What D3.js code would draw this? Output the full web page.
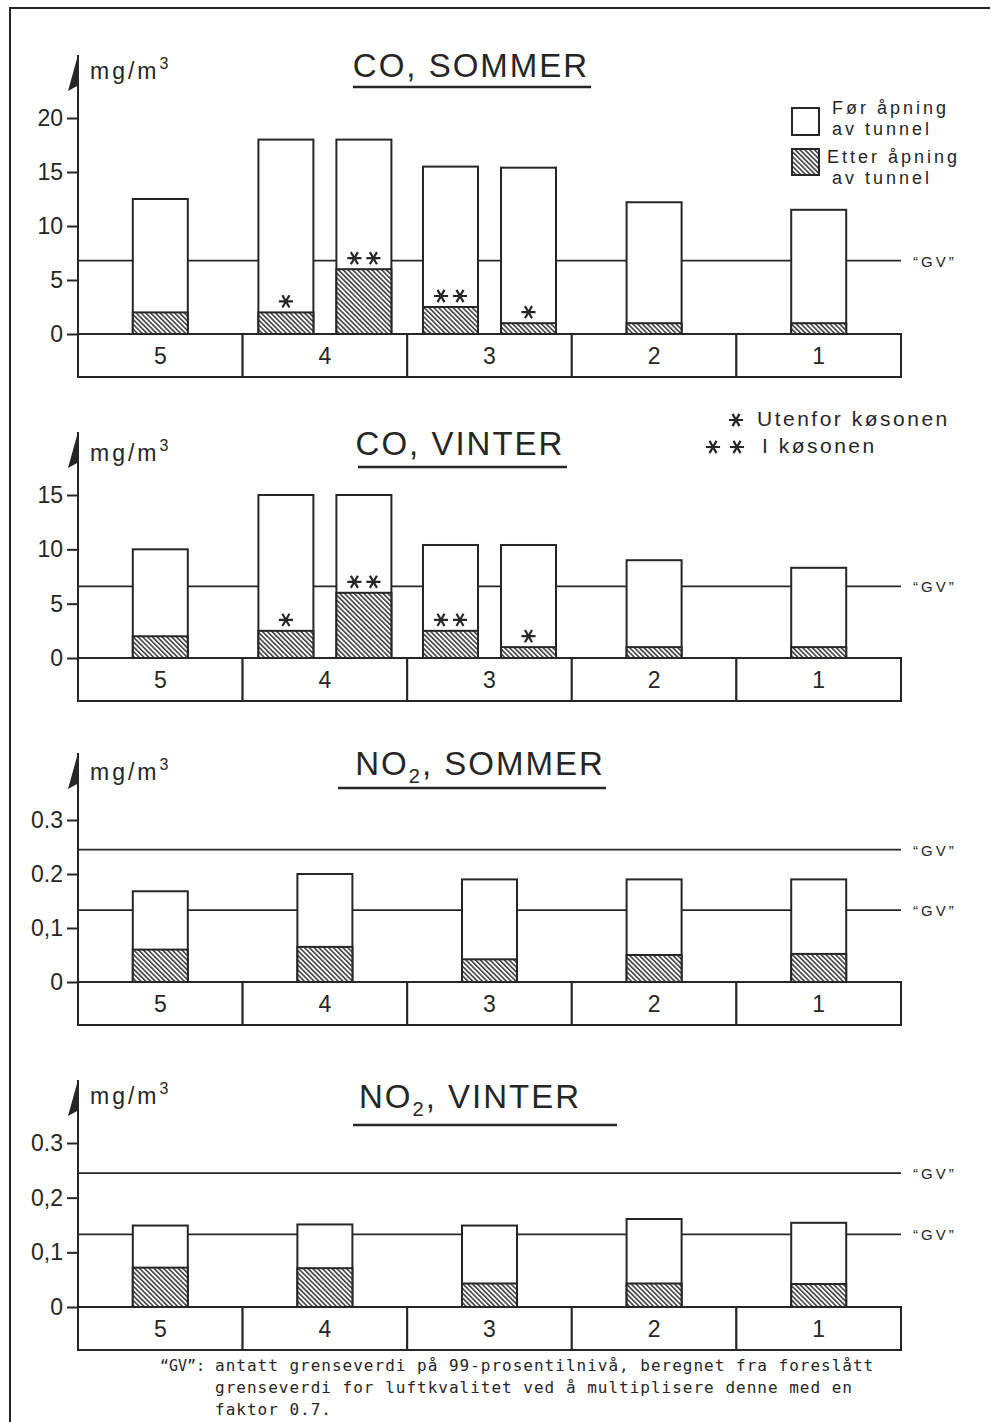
<!DOCTYPE html>
<meta charset="utf-8">
<html>
<head>
<style>
  body { margin: 0; background: #fff; }
  svg text { font-family: "Liberation Sans", Arial, sans-serif; fill: #262626; }
</style>
</head>
<body>
<script src="https://d3js.org/d3.v7.min.js"></script>
<div id="chart"></div>

<script>
// ---- data ----
var sites = ["5", "4", "3", "2", "1"];

// CO: sites 4 and 3 have two bars each
var coBarSites = ["5", "4", "4", "3", "3", "2", "1"];
var coStars = [0, 1, 2, 2, 1, 0, 0];   // 1 = utenfor køsonen, 2 = i køsonen
var coSommerFor = [12.5, 18.0, 18.0, 15.5, 15.4, 12.2, 11.5];
var coSommerEtter = [2.0, 2.0, 6.0, 2.5, 1.0, 1.0, 1.0];
var coVinterFor = [10.0, 15.0, 15.0, 10.4, 10.4, 9.0, 8.3];
var coVinterEtter = [2.0, 2.5, 6.0, 2.5, 1.0, 1.0, 1.0];
var coSommerGV = [6.8];
var coVinterGV = [6.6];
var coSommerTicks = [0, 5, 10, 15, 20];
var coVinterTicks = [0, 5, 10, 15];

// NO2: one bar per site
var no2BarSites = ["5", "4", "3", "2", "1"];
var no2SommerFor = [0.168, 0.200, 0.190, 0.190, 0.190];
var no2SommerEtter = [0.060, 0.065, 0.042, 0.050, 0.052];
var no2VinterFor = [0.149, 0.151, 0.149, 0.161, 0.154];
var no2VinterEtter = [0.072, 0.071, 0.043, 0.043, 0.042];
var no2GV = [0.245, 0.133];
var no2Ticks = [0, 0.1, 0.2, 0.3];
var no2SommerTickLabels = ["0", "0,1", "0.2", "0.3"];
var no2VinterTickLabels = ["0", "0,1", "0,2", "0.3"];

var footnote = [
  "antatt grenseverdi på 99-prosentilnivå, beregnet fra foreslått",
  "grenseverdi for luftkvalitet ved å multiplisere denne med en",
  "faktor 0.7."
];

// ---- layout ----
var W = 991, H = 1422;
var ink = "#262626";
var barW = 55, boxH = 43;

var svg = d3.select("#chart").append("svg")
    .attr("width", W)
    .attr("height", H);

svg.append("rect").attr("width", W).attr("height", H).attr("fill", "#fff");

// hatch pattern (\\\ lines)
var pat = svg.append("defs").append("pattern")
    .attr("id", "hatch")
    .attr("patternUnits", "userSpaceOnUse")
    .attr("width", 3.4).attr("height", 10)
    .attr("patternTransform", "rotate(-45)");
pat.append("rect").attr("width", 3.4).attr("height", 10).attr("fill", "#fff");
pat.append("line")
    .attr("x1", 0.8).attr("y1", 0).attr("x2", 0.8).attr("y2", 10)
    .attr("stroke", ink).attr("stroke-width", 1.4);

// outer frame
svg.append("path")
    .attr("d", "M10,1422V8H990")
    .attr("fill", "none").attr("stroke", ink).attr("stroke-width", 2);

var x = d3.scaleBand().domain(sites).range([78, 901]);
var sub = d3.scalePoint().domain([0, 1]).range([-39, 39]);

var star = d3.symbol().type(d3.symbolAsterisk);

function drawPanel(p, d) {
  var g = svg.append("g");
  var y = d3.scaleLinear()
      .domain([0, d.ticks[d.ticks.length - 1]])
      .range([p.y0, p.yTop]);

  // GV lines
  g.selectAll(".gv").data(d.gv).join("line")
      .attr("x1", 78).attr("x2", 901)
      .attr("y1", v => y(v)).attr("y2", v => y(v))
      .attr("stroke", ink).attr("stroke-width", 1.8);
  g.selectAll(".gvlab").data(d.gv).join("text")
      .attr("x", 913).attr("y", v => y(v) + 6)
      .style("font-size", "15px").style("letter-spacing", "3px")
      .text("\u201CGV\u201D");

  // bars
  var count = {}, bars = d.barSites.map(function(s, i) {
    count[s] = (count[s] || 0) + 1;
    return {site: s, idx: count[s] - 1, fore: d.fore[i], etter: d.etter[i],
            stars: d.stars ? d.stars[i] : 0};
  });
  bars.forEach(function(b) {
    var n = d.barSites.filter(s => s === b.site).length;
    b.cx = x(b.site) + x.bandwidth() / 2 + (n > 1 ? sub(b.idx) : 0);
  });

  g.selectAll(".fore").data(bars).join("rect")
      .attr("x", b => b.cx - barW / 2).attr("width", barW)
      .attr("y", b => y(b.fore)).attr("height", b => p.y0 - y(b.fore))
      .attr("fill", "#fff").attr("stroke", ink).attr("stroke-width", 2);
  g.selectAll(".etter").data(bars).join("rect")
      .attr("x", b => b.cx - barW / 2).attr("width", barW)
      .attr("y", b => y(b.etter)).attr("height", b => p.y0 - y(b.etter))
      .attr("fill", "url(#hatch)").attr("stroke", ink).attr("stroke-width", 2);

  // star markers
  var marks = [];
  bars.forEach(function(b) {
    for (var k = 0; k < b.stars; k++) {
      marks.push({x: b.cx + (b.stars === 2 ? (k === 0 ? -9.5 : 9.5) : 0), y: y(b.etter) - 11});
    }
  });
  g.selectAll(".star").data(marks).join("path")
      .attr("d", star.size(140))
      .attr("transform", m => "translate(" + m.x + "," + m.y + ") rotate(90)")
      .attr("fill", "none").attr("stroke", ink).attr("stroke-width", 2.2);

  // category boxes
  g.selectAll(".cell").data(sites).join("rect")
      .attr("x", s => x(s)).attr("width", x.bandwidth())
      .attr("y", p.y0).attr("height", boxH)
      .attr("fill", "#fff").attr("stroke", ink).attr("stroke-width", 2);
  g.selectAll(".cellLab").data(sites).join("text")
      .attr("x", s => x(s) + x.bandwidth() / 2).attr("y", p.y0 + 30)
      .attr("text-anchor", "middle")
      .style("font-size", "23px")
      .text(s => s);

  // y axis
  var ax = g.append("g")
      .attr("transform", "translate(78,0)")
      .call(d3.axisLeft(y)
        .tickValues(d.ticks)
        .tickFormat((v, i) => d.tickLabels[i])
        .tickSize(11).tickPadding(4));
  ax.select(".domain").remove();
  ax.selectAll("line").attr("stroke", ink).attr("stroke-width", 2);
  ax.selectAll("text")
      .attr("fill", ink)
      .style("font-family", "'Liberation Sans', Arial, sans-serif")
      .style("font-size", "23px");

  g.append("line")
      .attr("x1", 78).attr("x2", 78).attr("y1", p.arrowY).attr("y2", p.y0)
      .attr("stroke", ink).attr("stroke-width", 2);
  g.append("path")
      .attr("d", "M78," + p.arrowY + "L79," + (p.arrowY + 30) + "L68," + (p.arrowY + 36) + "Z")
      .attr("fill", ink);

  // unit label
  var mg = g.append("text")
      .attr("x", 90).attr("y", p.mgY)
      .style("font-size", "23px").style("letter-spacing", "3px")
      .text("mg/m");
  mg.append("tspan").attr("dy", -10).style("font-size", "16px").text("3");

  // title
  var t = g.append("text")
      .attr("x", p.titleX).attr("y", p.titleY)
      .attr("text-anchor", "middle")
      .style("font-size", "33px").style("letter-spacing", "2px");
  d.title.forEach(function(part) {
    t.append("tspan")
        .attr("dy", part.dy || 0)
        .style("font-size", part.size || null)
        .text(part.text);
  });
  g.append("line")
      .attr("x1", p.ulX[0]).attr("x2", p.ulX[1])
      .attr("y1", p.ulY).attr("y2", p.ulY)
      .attr("stroke", ink).attr("stroke-width", 2.5);
}

drawPanel(
  {y0: 334, yTop: 118, arrowY: 55, mgY: 79, titleX: 471, titleY: 77, ulY: 87, ulX: [353, 591]},
  {ticks: coSommerTicks, tickLabels: coSommerTicks.map(String), gv: coSommerGV,
   barSites: coBarSites, fore: coSommerFor, etter: coSommerEtter, stars: coStars,
   title: [{text: "CO, SOMMER"}]});

drawPanel(
  {y0: 658, yTop: 495, arrowY: 432, mgY: 461, titleX: 460, titleY: 455, ulY: 467, ulX: [358, 567]},
  {ticks: coVinterTicks, tickLabels: coVinterTicks.map(String), gv: coVinterGV,
   barSites: coBarSites, fore: coVinterFor, etter: coVinterEtter, stars: coStars,
   title: [{text: "CO, VINTER"}]});

drawPanel(
  {y0: 982, yTop: 820, arrowY: 753, mgY: 780, titleX: 480, titleY: 775, ulY: 788, ulX: [338, 606]},
  {ticks: no2Ticks, tickLabels: no2SommerTickLabels, gv: no2GV,
   barSites: no2BarSites, fore: no2SommerFor, etter: no2SommerEtter,
   title: [{text: "NO"}, {text: "2", dy: 8, size: "20px"}, {text: ", SOMMER", dy: -8}]});

drawPanel(
  {y0: 1307, yTop: 1143, arrowY: 1080, mgY: 1104, titleX: 470, titleY: 1108, ulY: 1125, ulX: [353, 617]},
  {ticks: no2Ticks, tickLabels: no2VinterTickLabels, gv: no2GV,
   barSites: no2BarSites, fore: no2VinterFor, etter: no2VinterEtter,
   title: [{text: "NO"}, {text: "2", dy: 8, size: "20px"}, {text: ", VINTER", dy: -8}]});

// legend: før / etter
var leg = svg.append("g");
leg.append("rect").attr("x", 792).attr("y", 108).attr("width", 27).attr("height", 27)
    .attr("fill", "#fff").attr("stroke", ink).attr("stroke-width", 2);
leg.append("rect").attr("x", 792).attr("y", 149).attr("width", 27).attr("height", 26)
    .attr("fill", "url(#hatch)").attr("stroke", ink).attr("stroke-width", 2);
[["Før åpning", 832, 114], ["av tunnel", 832, 135], ["Etter åpning", 827, 163], ["av tunnel", 832, 184]]
  .forEach(function(l) {
    leg.append("text").attr("x", l[1]).attr("y", l[2])
        .style("font-size", "18px").style("letter-spacing", "3px")
        .text(l[0]);
  });

// legend: stars
var sleg = svg.append("g");
[[736, 420], [713, 447], [737, 447]].forEach(function(c) {
  sleg.append("path").attr("d", star.size(140))
      .attr("transform", "translate(" + c[0] + "," + c[1] + ") rotate(90)")
      .attr("fill", "none").attr("stroke", ink).attr("stroke-width", 2.2);
});
sleg.append("text").attr("x", 757).attr("y", 426)
    .style("font-size", "21px").style("letter-spacing", "2.5px").text("Utenfor køsonen");
sleg.append("text").attr("x", 762).attr("y", 453)
    .style("font-size", "21px").style("letter-spacing", "2.5px").text("I køsonen");

// footnote
var foot = svg.append("g");
foot.append("text").attr("x", 160).attr("y", 1371)
    .style("font-family", "'DejaVu Sans Mono', monospace")
    .style("font-size", "15px").text("\u201CGV\u201D:");
foot.selectAll(".fn").data(footnote).join("text")
    .attr("x", 215).attr("y", (s, i) => 1371 + i * 22)
    .style("font-family", "'DejaVu Sans Mono', monospace")
    .style("font-size", "16px").style("letter-spacing", "1px")
    .text(s => s);
</script>
</body>
</html>
